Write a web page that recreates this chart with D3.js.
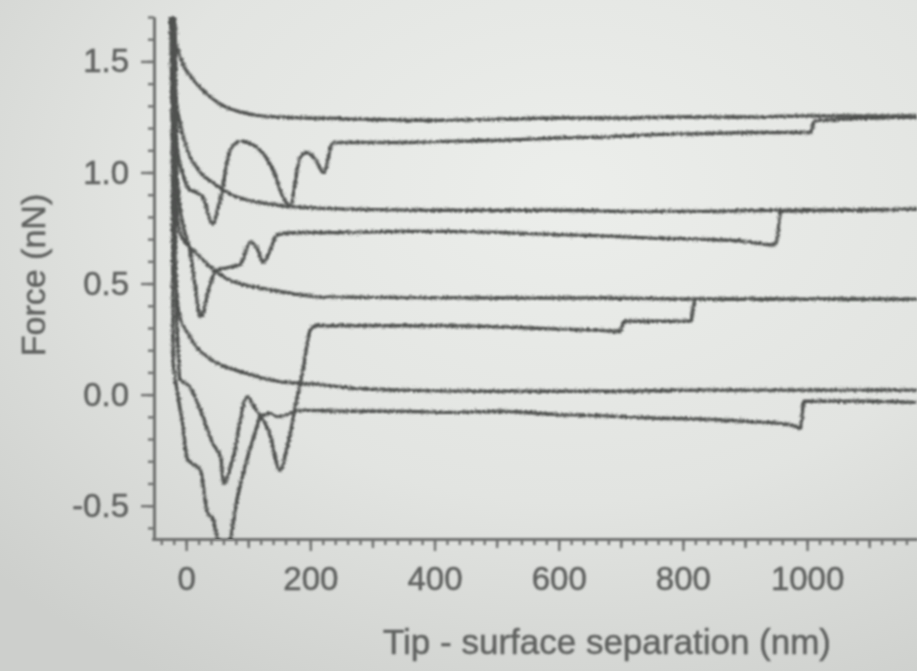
<!DOCTYPE html>
<html lang="en">

<head>
    <meta charset="UTF-8">
    <title>Force curves</title>
    <script src="https://d3js.org/d3.v7.min.js"></script>
    <style>
        body { margin: 0; background: #dcdedb; }
    </style>
</head>

<body>
    <svg width="917" height="671"></svg>

    <script>
        // curves: [separation (nm), force (nN)]
        const approach1 = [[-26, 1.70], [-20, 1.62], [-10, 1.52], [0, 1.46], [11, 1.42], [25, 1.375], [39, 1.34], [60, 1.30], [92, 1.27], [120, 1.255], [147, 1.25], [200, 1.245], [280, 1.24], [400, 1.235], [500, 1.24], [600, 1.245], [700, 1.245], [800, 1.25], [900, 1.25], [1000, 1.255], [1100, 1.255], [1177, 1.255]];
        const retract1 = [[-20, 1.70], [-15, 1.12], [-6, 1.00], [3, 0.93], [16, 0.91], [27, 0.89], [42, 0.77], [55, 0.88], [71, 1.10], [87, 1.14], [119, 1.10], [140, 1.01], [156, 0.89], [167, 0.85], [184, 1.07], [195, 1.09], [208, 1.06], [221, 1.00], [237, 1.135], [345, 1.135], [420, 1.14], [506, 1.145], [600, 1.155], [667, 1.16], [750, 1.17], [828, 1.175], [920, 1.18], [1005, 1.18], [1012, 1.23], [1100, 1.245], [1177, 1.25]];
        const approach2 = [[-24, 1.70], [-17, 1.35], [-10, 1.225], [2, 1.10], [23, 1.00], [45, 0.95], [66, 0.91], [92, 0.88], [119, 0.865], [172, 0.845], [264, 0.835], [400, 0.83], [506, 0.83], [600, 0.83], [700, 0.825], [828, 0.825], [950, 0.83], [1050, 0.83], [1177, 0.835]];
        const retract2 = [[-18, 1.70], [-15, 1.0], [-6, 0.78], [6, 0.65], [14, 0.50], [23, 0.35], [39, 0.50], [47, 0.555], [63, 0.57], [87, 0.585], [103, 0.685], [114, 0.66], [124, 0.595], [135, 0.65], [147, 0.72], [184, 0.73], [260, 0.73], [345, 0.735], [420, 0.735], [506, 0.73], [600, 0.72], [667, 0.715], [750, 0.705], [828, 0.70], [900, 0.69], [940, 0.675], [950, 0.68], [958, 0.825], [1050, 0.83], [1177, 0.835]];
        const approach3 = [[-22, 1.70], [-17, 0.95], [-10, 0.73], [0, 0.68], [11, 0.65], [39, 0.575], [66, 0.52], [92, 0.495], [119, 0.48], [160, 0.46], [216, 0.44], [345, 0.437], [500, 0.435], [667, 0.435], [828, 0.43], [1000, 0.43], [1177, 0.43]];
        const retract3 = [[-19, 1.70], [-17, 0.6], [-13, 0.2], [-10, 0.07], [6, 0.035], [23, -0.07], [42, -0.215], [56, -0.29], [60, -0.40], [76, -0.28], [98, -0.01], [113, -0.07], [134, -0.17], [151, -0.34], [163, -0.235], [179, -0.01], [188, 0.11], [200, 0.29], [209, 0.31], [345, 0.31], [420, 0.31], [506, 0.305], [600, 0.295], [667, 0.29], [699, 0.285], [705, 0.33], [760, 0.33], [812, 0.33], [820, 0.43], [1000, 0.43], [1177, 0.43]];
        const approach4 = [[-25, 1.70], [-20, 0.8], [-15, 0.45], [-10, 0.35], [2, 0.28], [11, 0.235], [39, 0.16], [55, 0.135], [92, 0.10], [147, 0.06], [216, 0.045], [264, 0.03], [345, 0.02], [506, 0.015], [667, 0.015], [828, 0.02], [1000, 0.02], [1177, 0.02]];
        const retract4 = [[-23, 1.70], [-21, 0.16], [-14, 0.01], [-5, -0.145], [2, -0.29], [23, -0.34], [34, -0.53], [43, -0.56], [50, -0.64], [58, -0.70], [66, -0.70], [82, -0.47], [98, -0.29], [114, -0.145], [119, -0.10], [135, -0.085], [147, -0.10], [184, -0.07], [260, -0.075], [345, -0.075], [420, -0.08], [506, -0.075], [600, -0.09], [667, -0.095], [750, -0.105], [828, -0.11], [900, -0.12], [973, -0.135], [989, -0.15], [995, -0.03], [1100, -0.03], [1177, -0.035]];

        const curves = [approach1, retract1, approach2, retract2, approach3, retract3, approach4, retract4];

        const xTicks = [0, 200, 400, 600, 800, 1000];
        const yTicks = [-0.5, 0.0, 0.5, 1.0, 1.5];

        document.addEventListener('DOMContentLoaded', function () {
            const svg = d3.select("svg"),
                width = +svg.attr("width"),
                height = +svg.attr("height");

            const x = d3.scaleLinear().domain([-55, 1177]).range([152, 917]);
            const y = d3.scaleLinear().domain([-0.65, 1.70]).range([539, 17]);

            const defs = svg.append("defs");

            // photo-like background
            const grad = defs.append("radialGradient").attr("id", "bg")
                .attr("cx", "62%").attr("cy", "28%").attr("r", "85%");
            grad.append("stop").attr("offset", "0%").attr("stop-color", "#eceeeb");
            grad.append("stop").attr("offset", "55%").attr("stop-color", "#e2e4e1");
            grad.append("stop").attr("offset", "100%").attr("stop-color", "#cdcfcc");

            // jitter + blur so the traces look like noisy measured data
            const rough = defs.append("filter").attr("id", "rough")
                .attr("filterUnits", "userSpaceOnUse")
                .attr("x", 0).attr("y", 0).attr("width", width).attr("height", height);
            rough.append("feTurbulence").attr("type", "fractalNoise")
                .attr("baseFrequency", 0.6).attr("numOctaves", 2).attr("seed", 4).attr("result", "n");
            rough.append("feDisplacementMap").attr("in", "SourceGraphic").attr("in2", "n")
                .attr("scale", 4.5).attr("xChannelSelector", "R").attr("yChannelSelector", "G").attr("result", "d");
            rough.append("feGaussianBlur").attr("in", "d").attr("stdDeviation", 0.8);

            const soft = defs.append("filter").attr("id", "soft")
                .attr("filterUnits", "userSpaceOnUse")
                .attr("x", 0).attr("y", 0).attr("width", width).attr("height", height);
            soft.append("feGaussianBlur").attr("stdDeviation", 0.9);

            defs.append("clipPath").attr("id", "plot")
                .append("rect").attr("x", 150).attr("y", 0).attr("width", width - 150).attr("height", 539);

            svg.append("rect").attr("width", width).attr("height", height).attr("fill", "url(#bg)");

            const g = svg.append("g").attr("filter", "url(#soft)");
            const font = "'Liberation Sans', Arial, sans-serif";
            const axisColor = "#6f716f";
            const textColor = "#5f615f";

            // y axis: minor ticks every 0.1, labelled every 0.5
            g.append("g")
                .attr("transform", "translate(154,0)")
                .call(d3.axisLeft(y).tickValues(d3.range(-6, 18).map(d => d / 10)).tickSize(6).tickSizeOuter(0).tickFormat(""));
            g.append("g")
                .attr("transform", "translate(154,0)")
                .call(d3.axisLeft(y).tickValues(yTicks).tickSize(13).tickSizeOuter(0).tickPadding(12)
                    .tickFormat(d => d.toFixed(1)));

            // x axis: minor every 20, medium every 100, labelled every 200
            g.append("g")
                .attr("transform", "translate(0,539)")
                .call(d3.axisBottom(x).tickValues(d3.range(-40, 1180, 20)).tickSize(6).tickSizeOuter(0).tickFormat(""));
            g.append("g")
                .attr("transform", "translate(0,539)")
                .call(d3.axisBottom(x).tickValues(d3.range(100, 1180, 200)).tickSize(9).tickSizeOuter(0).tickFormat(""));
            g.append("g")
                .attr("transform", "translate(0,539)")
                .call(d3.axisBottom(x).tickValues(xTicks).tickSize(12).tickSizeOuter(0).tickPadding(16)
                    .tickFormat(d => String(d)));

            g.selectAll(".domain").attr("stroke", axisColor).attr("stroke-width", 2.8);
            g.selectAll(".tick line").attr("stroke", axisColor).attr("stroke-width", 2.4);
            g.selectAll(".tick text")
                .attr("fill", textColor)
                .attr("font-family", font)
                .attr("font-size", "33px")
                .attr("stroke", textColor)
                .attr("stroke-width", 0.5);

            // axis titles
            g.append("text")
                .attr("transform", "translate(45,275) rotate(-90)")
                .attr("text-anchor", "middle")
                .attr("fill", textColor)
                .attr("stroke", textColor)
                .attr("stroke-width", 0.5)
                .attr("font-family", font)
                .attr("font-size", "34px")
                .text("Force (nN)");

            g.append("text")
                .attr("x", 607)
                .attr("y", 654)
                .attr("text-anchor", "middle")
                .attr("fill", textColor)
                .attr("stroke", textColor)
                .attr("stroke-width", 0.5)
                .attr("font-family", font)
                .attr("font-size", "35px")
                .text("Tip - surface separation (nm)");

            // traces
            const line = d3.line().curve(d3.curveMonotoneX).x(d => x(d[0])).y(d => y(d[1]));
            svg.append("g")
                .attr("clip-path", "url(#plot)")
                .append("g")
                .attr("filter", "url(#rough)")
                .selectAll("path")
                .data(curves)
                .join("path")
                .attr("d", line)
                .attr("fill", "none")
                .attr("stroke", "#4f514f")
                .attr("stroke-width", 3.4)
                .attr("stroke-linejoin", "round");
        });
    </script>

</body>

</html>
